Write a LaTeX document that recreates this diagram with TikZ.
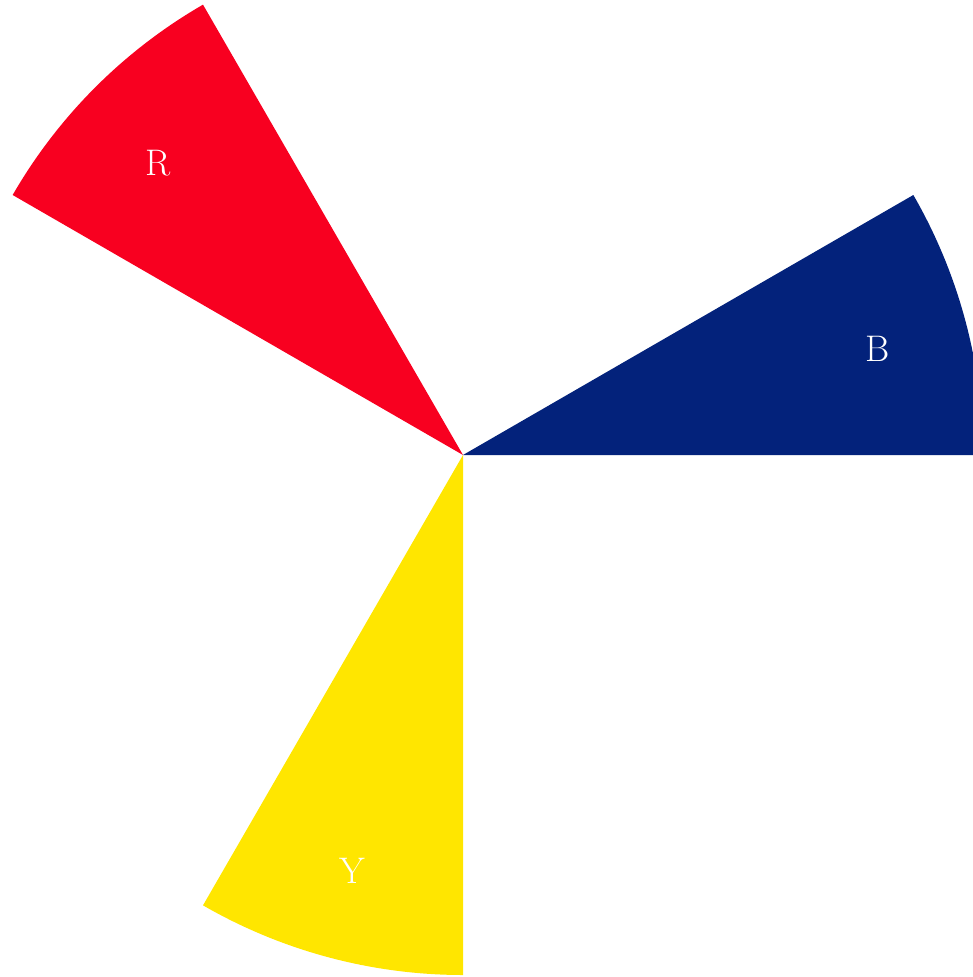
\documentclass[tikz,border=0pt]{standalone}
\definecolor{cR}{HTML}{F80020}
\definecolor{cB}{HTML}{03227B}
\definecolor{cY}{HTML}{FFE600}
\begin{document}
\begin{tikzpicture}[x=1pt,y=1pt,
  lbl/.style={text=white,font=\fontsize{37}{44}\selectfont,inner sep=0pt}]
\useasboundingbox (0,0) rectangle (973,-977);
\clip (0,0) rectangle (973,-977);
\coordinate (O) at (463,-455);
\fill[cB] (O) -- ++(0:520) arc[start angle=0,end angle=30,radius=520] -- cycle;
\fill[cR] (O) -- ++(120:520) arc[start angle=120,end angle=150,radius=520] -- cycle;
\fill[cY] (O) -- ++(240:520) arc[start angle=240,end angle=270,radius=520] -- cycle;
\node[lbl] (R) at (158,-163) {R};
\node[lbl] (B) at (878,-349) {B};
\node[lbl] (Y) at (352,-871) {Y};
\end{tikzpicture}
\end{document}
